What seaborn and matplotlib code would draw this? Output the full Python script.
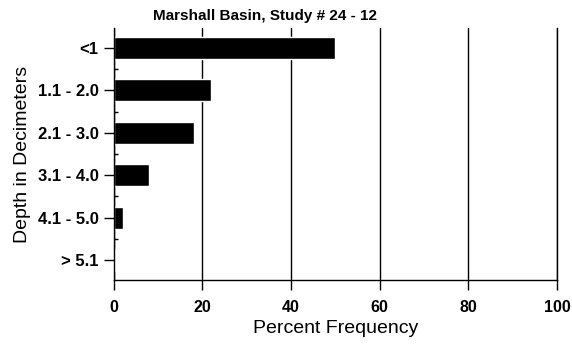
import seaborn as sns
import pandas as pd
import numpy as np
import matplotlib.pyplot as plt
from matplotlib.ticker import MultipleLocator, FixedLocator

# data
depths = ['<1', '1.1 - 2.0', '2.1 - 3.0', '3.1 - 4.0', '4.1 - 5.0', '> 5.1']
percent = [50, 22, 18, 8, 2, 0.3]

sns.set_style("white")
plt.rcParams['font.family'] = ['Liberation Sans', 'DejaVu Sans']
plt.rcParams['text.color'] = 'black'
plt.rcParams['axes.labelcolor'] = 'black'
plt.rcParams['xtick.color'] = 'black'
plt.rcParams['ytick.color'] = 'black'

df = pd.DataFrame({'depth': depths, 'percent': percent})

fig = plt.figure(figsize=(5.72, 3.45), dpi=100)
ax = fig.add_axes([0.199, 0.188, 0.775, 0.731])

sns.barplot(data=df, x='percent', y='depth', orient='h', color='black',
            width=0.52, saturation=1, ax=ax)

ax.set_xlim(0, 100)
ax.set_ylim(5.47, -0.47)
ax.xaxis.set_major_locator(MultipleLocator(20))
ax.yaxis.set_minor_locator(FixedLocator(np.arange(0.5, 5.5, 1)))

ax.set_axisbelow(True)
ax.grid(axis='x', color='black', linewidth=1.0)
ax.grid(axis='y', visible=False)

# the line at 100 is drawn as the right spine so it is not clipped
ax.spines['top'].set_visible(False)
for s in ['left', 'bottom', 'right']:
    ax.spines[s].set_visible(True)
    ax.spines[s].set_color('black')
    ax.spines[s].set_linewidth(1.0)

ax.tick_params(axis='x', which='major', bottom=True, direction='out', length=7,
               width=1.0, pad=7, labelsize=11.5)
ax.tick_params(axis='y', which='major', left=True, right=False, direction='out',
               length=7.5, width=1.0, pad=3.5, labelsize=12)
ax.tick_params(axis='y', which='minor', left=True, right=False, direction='in',
               length=3, width=1.0)
for lab in ax.get_xticklabels() + ax.get_yticklabels():
    lab.set_fontweight('bold')

ax.set_xlabel('Percent Frequency', fontsize=14, labelpad=4)
ax.set_ylabel('Depth in Decimeters', fontsize=14, labelpad=5)

fig.text(0.464, 0.954, 'Marshall Basin, Study # 24 - 12', ha='center', va='center',
         fontsize=11, fontweight='bold')

plt.savefig('out.png', dpi=100)
